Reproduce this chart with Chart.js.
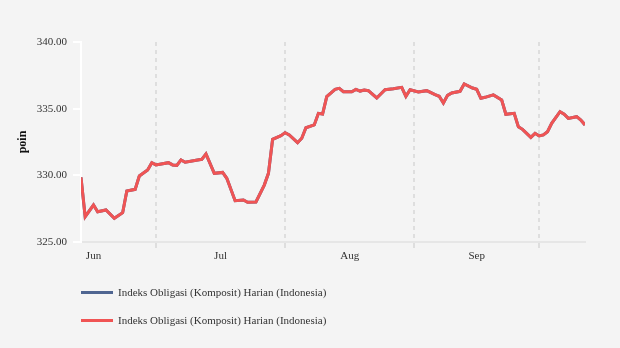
<!DOCTYPE html>
<html>
<head>
<meta charset="utf-8">
<script src="https://cdn.jsdelivr.net/npm/chart.js@4.4.0/dist/chart.umd.min.js"></script>
<style>
  html, body { margin: 0; padding: 0; background: #f4f4f4; }
  #wrap { position: relative; width: 620px; height: 348px; }
  #legend { position: absolute; left: 81px; top: 283px; font: 11px "Liberation Serif", "Times New Roman", serif; color: #333; }
  #legend .item { display: flex; align-items: center; height: 18px; margin-bottom: 10px; white-space: nowrap; }
  #legend .swatch { width: 32px; height: 3px; margin-right: 5px; }
</style>
</head>
<body>
<div id="wrap">
  <canvas id="chart" width="620" height="348"></canvas>
  <div id="legend"></div>
</div>
<script>
// daily index values
const dates = [
  '2023-06-13', '2023-06-14', '2023-06-16', '2023-06-17', '2023-06-19', '2023-06-21', '2023-06-23', '2023-06-24',
  '2023-06-26', '2023-06-27', '2023-06-29', '2023-06-30', '2023-07-01', '2023-07-04', '2023-07-05', '2023-07-06',
  '2023-07-07', '2023-07-08', '2023-07-11', '2023-07-12', '2023-07-13', '2023-07-15', '2023-07-17', '2023-07-18',
  '2023-07-20', '2023-07-22', '2023-07-23', '2023-07-25', '2023-07-27', '2023-07-28', '2023-07-29', '2023-07-31',
  '2023-08-01', '2023-08-02', '2023-08-04', '2023-08-05', '2023-08-06', '2023-08-08', '2023-08-09', '2023-08-10',
  '2023-08-11', '2023-08-13', '2023-08-14', '2023-08-15', '2023-08-17', '2023-08-18', '2023-08-19', '2023-08-20',
  '2023-08-21', '2023-08-23', '2023-08-25', '2023-08-27', '2023-08-29', '2023-08-30', '2023-08-31', '2023-09-02',
  '2023-09-04', '2023-09-06', '2023-09-07', '2023-09-08', '2023-09-09', '2023-09-10', '2023-09-12', '2023-09-13',
  '2023-09-15', '2023-09-16', '2023-09-17', '2023-09-18', '2023-09-20', '2023-09-22', '2023-09-23', '2023-09-25',
  '2023-09-26', '2023-09-27', '2023-09-29', '2023-09-30', '2023-10-01', '2023-10-02', '2023-10-03', '2023-10-04',
  '2023-10-06', '2023-10-07', '2023-10-08', '2023-10-10', '2023-10-11', '2023-10-12'
];
const values = [
  329.85, 326.90, 327.77, 327.27, 327.40, 326.78, 327.20, 328.83,
  328.95, 329.95, 330.40, 330.95, 330.78, 330.95, 330.78, 330.75,
  331.15, 330.98, 331.15, 331.20, 331.60, 330.15, 330.22, 329.78,
  328.10, 328.15, 327.98, 328.00, 329.27, 330.15, 332.70, 332.97,
  333.20, 333.03, 332.45, 332.78, 333.57, 333.78, 334.65, 334.60,
  335.90, 336.45, 336.52, 336.27, 336.27, 336.45, 336.32, 336.40,
  336.35, 335.80, 336.42, 336.50, 336.60, 335.93, 336.42, 336.25,
  336.35, 336.05, 335.93, 335.43, 336.00, 336.18, 336.30, 336.85,
  336.55, 336.45, 335.78, 335.85, 336.03, 335.65, 334.58, 334.65,
  333.65, 333.45, 332.85, 333.15, 332.95, 333.03, 333.27, 333.90,
  334.77, 334.58, 334.27, 334.40, 334.15, 333.78
];
const months = ['Jun', 'Jul', 'Aug', 'Sep'];
const monthStarts = ['2023-06-01', '2023-07-01', '2023-08-01', '2023-09-01', '2023-10-01'];
const yTicks = [325, 330, 335, 340];
const seriesName = 'Indeks Obligasi (Komposit) Harian (Indonesia)';

const FONT = "'Liberation Serif', 'Times New Roman', serif";
const DAY = 86400000;
const origin = Date.parse(monthStarts[0]);
const dayOf = s => Math.round((Date.parse(s) - origin) / DAY);

const points = dates.map((d, i) => ({ x: dayOf(d), y: values[i] }));
const starts = monthStarts.map(dayOf);
const gridDays = starts.slice(1);
// month names sit midway between month boundaries
const labelAt = {};
months.forEach((m, i) => { labelAt[(starts[i] + starts[i + 1]) / 2] = m; });
const xTicks = gridDays.concat(Object.keys(labelAt).map(Number)).sort((a, b) => a - b);

const chart = new Chart(document.getElementById('chart'), {
  type: 'line',
  data: {
    datasets: [
      { label: seriesName, data: points, borderColor: '#4f6591', backgroundColor: '#4f6591', borderWidth: 3, order: 1 },
      { label: seriesName, data: points, borderColor: '#f05454', backgroundColor: '#f05454', borderWidth: 3, order: 0 }
    ]
  },
  options: {
    responsive: false,
    animation: false,
    elements: { point: { radius: 0 }, line: { tension: 0 } },
    layout: { padding: { top: 42, right: 35, left: 0, bottom: 0 } },
    plugins: { legend: { display: false }, tooltip: { enabled: false } },
    scales: {
      x: {
        type: 'linear',
        min: points[0].x,
        max: points[points.length - 1].x,
        afterBuildTicks: s => { s.ticks = xTicks.map(v => ({ value: v })); },
        afterFit: s => { s.height = 106; },
        grid: {
          color: c => (c.tick && gridDays.includes(c.tick.value)) ? '#dedede' : 'rgba(0,0,0,0)',
          lineWidth: 2,
          tickLength: 6
        },
        border: { color: '#e6e6e6', width: 2, dash: [4, 4] },
        ticks: {
          autoSkip: false,
          maxRotation: 0,
          padding: 2,
          color: '#333',
          font: { family: FONT, size: 11 },
          callback: v => labelAt[v] || ''
        }
      },
      y: {
        min: 325,
        max: 340,
        afterBuildTicks: s => { s.ticks = yTicks.map(v => ({ value: v })); },
        afterFit: s => { s.width = 81; },
        grid: { drawOnChartArea: false, color: '#ffffff', lineWidth: 2, tickLength: 8 },
        border: { color: '#ffffff', width: 2 },
        ticks: {
          padding: 6,
          color: '#333',
          font: { family: FONT, size: 11 },
          callback: v => v.toFixed(2)
        },
        title: {
          display: true,
          text: 'poin',
          color: '#111',
          font: { family: FONT, size: 12, weight: 'bold' },
          padding: { top: 16, bottom: 0 }
        }
      }
    }
  }
});

// legend rows below the plot
const legend = document.getElementById('legend');
chart.data.datasets.forEach(ds => {
  const row = document.createElement('div');
  row.className = 'item';
  const sw = document.createElement('span');
  sw.className = 'swatch';
  sw.style.background = ds.borderColor;
  const txt = document.createElement('span');
  txt.textContent = ds.label;
  row.appendChild(sw);
  row.appendChild(txt);
  legend.appendChild(row);
});
</script>
</body>
</html>
